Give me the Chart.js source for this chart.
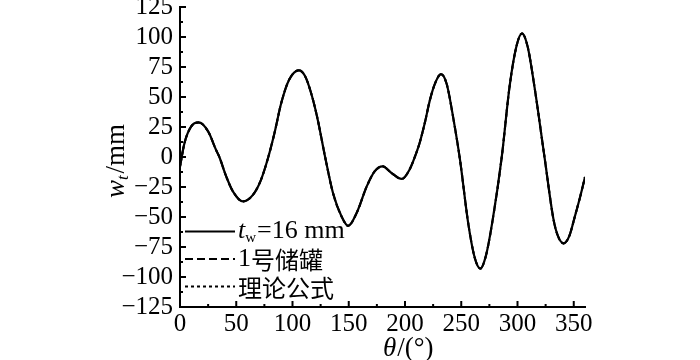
<!DOCTYPE html>
<html>
<head>
<meta charset="utf-8">
<script src="https://cdn.jsdelivr.net/npm/chart.js@4"></script>
<style>
  html, body { margin: 0; padding: 0; background: #fff; }
  #wrap { width: 700px; height: 360px; }
</style>
</head>
<body>
<div id="wrap"><canvas id="wtChart" width="700" height="360"></canvas></div>
<script>
// angle around the tank (deg) and radial displacement wt (mm)
const thetaDeg = [0, 4, 10, 16.6, 25, 32, 35, 41, 47, 56, 65, 72, 78.5, 84, 90, 97, 105.7,
  111, 116, 122, 129, 136, 143.6, 149.5, 157, 166, 173, 180, 188, 197, 204, 210, 213, 218, 222, 227,
  232, 237, 243, 249, 256, 262, 267, 272, 278, 286, 293, 299, 304, 309, 315, 324, 332, 336, 341,
  346, 351, 356, 360];
const wtMm = [-8, 11.7, 25.5, 28.8, 21.3, 6, 0, -16, -28.6, -37, -31.4, -19, 0, 20, 45, 64.4, 72.2,
  67.7, 55, 33, 0, -30, -49.5, -57.3, -46.7, -24.5, -12, -7.8, -13.3, -18.3, -10.6, 3.3, 11.7, 30, 47, 62,
  69, 61, 32, -3, -54, -84, -93, -82, -52, 0, 59, 92, 103, 92, 59, 0, -52, -66, -72,
  -66, -49.5, -32, -16.7];
// the three curves coincide in the figure, only the solid one is visible
const tankValues = wtMm;
const theoryValues = wtMm;

const xTicks = [0, 50, 100, 150, 200, 250, 300, 350];
const yTicks = [-125, -100, -75, -50, -25, 0, 25, 50, 75, 100, 125];
const seriesLabels = ['tw=16 mm', '1号储罐', '理论公式'];

const serif = '"Liberation Serif", "DejaVu Serif", serif';
const cjk = '"Noto Sans CJK SC", sans-serif';

const pts = vals => thetaDeg.map((t, i) => ({ x: t, y: vals[i] }));

// inward ticks, legend and axis titles
const decor = {
  id: 'decor',
  afterDraw(chart) {
    const c = chart.ctx;
    const xs = chart.scales.x, ys = chart.scales.y;
    const ca = chart.chartArea;
    c.save();
    c.strokeStyle = '#000';
    c.lineWidth = 2;

    // x ticks
    xTicks.forEach(v => {
      let px = xs.getPixelForValue(v);
      c.beginPath(); c.moveTo(px, ca.bottom); c.lineTo(px, ca.bottom - 6); c.stroke();
      const mid = v + 25;
      if (mid < xs.max) {
        px = xs.getPixelForValue(mid);
        c.beginPath(); c.moveTo(px, ca.bottom); c.lineTo(px, ca.bottom - 3); c.stroke();
      }
    });
    // y ticks
    yTicks.forEach((v, i) => {
      let py = ys.getPixelForValue(v);
      c.beginPath(); c.moveTo(ca.left, py); c.lineTo(ca.left + 6, py); c.stroke();
      if (i < yTicks.length - 1) {
        py = ys.getPixelForValue(v + 12.5);
        c.beginPath(); c.moveTo(ca.left, py); c.lineTo(ca.left + 3, py); c.stroke();
      }
    });

    // legend
    c.fillStyle = '#000';
    c.textBaseline = 'middle';
    c.textAlign = 'left';
    chart.data.datasets.forEach((ds, i) => {
      const y = 231.5 + i * 27.5;
      c.lineWidth = 2;
      c.setLineDash(ds.borderDash || []);
      c.beginPath(); c.moveTo(185, y); c.lineTo(235, y); c.stroke();
      c.setLineDash([]);
      let x = 238;
      if (i === 0) {
        c.font = 'italic 26px ' + serif;
        c.fillText('t', x, y); x += c.measureText('t').width;
        c.font = '15px ' + serif;
        c.fillText('w', x, y + 7); x += c.measureText('w').width + 1;
        c.font = '26px ' + serif;
        c.fillText('=16 mm', x, y);
      } else {
        const lbl = ds.label;
        c.font = '26px ' + serif;
        const num = lbl.match(/^\d*/)[0];
        if (num) { c.fillText(num, x, y); x += c.measureText(num).width; }
        c.font = '24px ' + cjk;
        c.fillText(lbl.slice(num.length), x, y + 1);
      }
    });

    // x title
    c.font = 'italic 27px ' + serif;
    let x = 383;
    c.fillText('θ', x, 349); x += c.measureText('θ').width + 1;
    c.font = '27px ' + serif;
    c.fillText('/(°)', x, 349);

    // y title (rotated)
    c.translate(117, 161);
    c.rotate(-Math.PI / 2);
    c.font = 'italic 27px ' + serif;
    const w1 = c.measureText('w').width;
    c.font = 'italic 17px ' + serif;
    const w2 = c.measureText('t').width + 2;
    c.font = '27px ' + serif;
    const w3 = c.measureText('/mm').width;
    let tx = -(w1 + w2 + w3) / 2;
    c.font = 'italic 27px ' + serif;
    c.fillText('w', tx, 0); tx += w1;
    c.font = 'italic 17px ' + serif;
    c.fillText('t', tx, 7); tx += w2;
    c.font = '27px ' + serif;
    c.fillText('/mm', tx, 0);
    c.restore();
  }
};

const noPad = s => { s.paddingTop = 0; s.paddingBottom = 0; s.paddingLeft = 0; s.paddingRight = 0; };

new Chart(document.getElementById('wtChart'), {
  type: 'line',
  data: {
    datasets: [
      { label: seriesLabels[0], data: pts(wtMm), borderColor: '#000', borderWidth: 2.2, order: 1 },
      { label: seriesLabels[1], data: pts(tankValues), borderColor: '#000', borderWidth: 2, borderDash: [8, 4], order: 2 },
      { label: seriesLabels[2], data: pts(theoryValues), borderColor: '#000', borderWidth: 2, borderDash: [3, 3], order: 3 }
    ]
  },
  options: {
    responsive: false,
    animation: false,
    events: [],
    layout: { padding: { left: 0, right: 115, top: 7, bottom: 0 } },
    elements: {
      point: { radius: 0 },
      line: { cubicInterpolationMode: 'monotone', fill: false }
    },
    plugins: {
      legend: { display: false },
      tooltip: { enabled: false }
    },
    scales: {
      x: {
        type: 'linear',
        min: 0,
        max: 360,
        afterBuildTicks: s => { s.ticks = xTicks.map(v => ({ value: v })); },
        afterFit: s => { s.height = 53; noPad(s); },
        grid: { display: false, drawTicks: false },
        border: { display: true, color: '#000', width: 2 },
        ticks: {
          padding: 2,
          color: '#000',
          maxRotation: 0,
          autoSkip: false,
          font: { family: serif, size: 25 }
        }
      },
      y: {
        min: -125,
        max: 125,
        afterBuildTicks: s => { s.ticks = yTicks.map(v => ({ value: v })); },
        afterFit: s => { s.width = 180; noPad(s); },
        grid: { display: false, drawTicks: false },
        border: { display: true, color: '#000', width: 2 },
        ticks: {
          padding: 7,
          color: '#000',
          autoSkip: false,
          font: { family: serif, size: 25 },
          callback: v => String(v).replace('-', '−')
        }
      }
    }
  },
  plugins: [decor]
});
</script>
</body>
</html>
